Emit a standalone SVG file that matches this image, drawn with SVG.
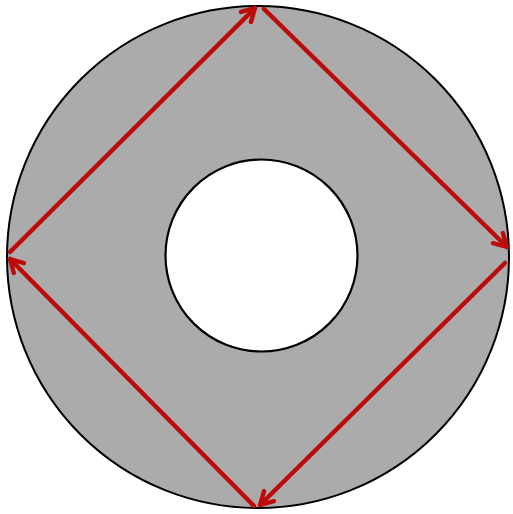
<svg xmlns="http://www.w3.org/2000/svg" width="513" height="514" viewBox="0 0 513 514">
<defs>
<marker id="ah" viewBox="0 0 12 12" refX="10" refY="6" markerWidth="4.5" markerHeight="4.5" orient="auto" markerUnits="strokeWidth">
<polyline points="2.5,1.8 10,6 2.5,10.2" fill="none" stroke="#bd0a0a" stroke-width="2.6" stroke-linecap="round" stroke-linejoin="round"/>
</marker>
</defs>
<style>
.arr{stroke:#bd0a0a;stroke-width:4.5;fill:none;stroke-linecap:round;marker-end:url(#ah)}
</style>
<rect width="513" height="514" fill="#ffffff"/>
<g id="outer">
<circle cx="258" cy="257" r="251" fill="#ababab" stroke="#000" stroke-width="2"/>
</g>
<g id="inner">
<circle cx="261.5" cy="255.5" r="96" fill="#ffffff" stroke="#000" stroke-width="2.2"/>
</g>
<g id="connectors">
<line class="arr" x1="10" y1="252" x2="255" y2="8"/>
<line class="arr" x1="264" y1="9" x2="507" y2="247"/>
<line class="arr" x1="505" y1="263" x2="260" y2="505"/>
<line class="arr" x1="254" y1="506" x2="10" y2="259"/>
</g>
</svg>
